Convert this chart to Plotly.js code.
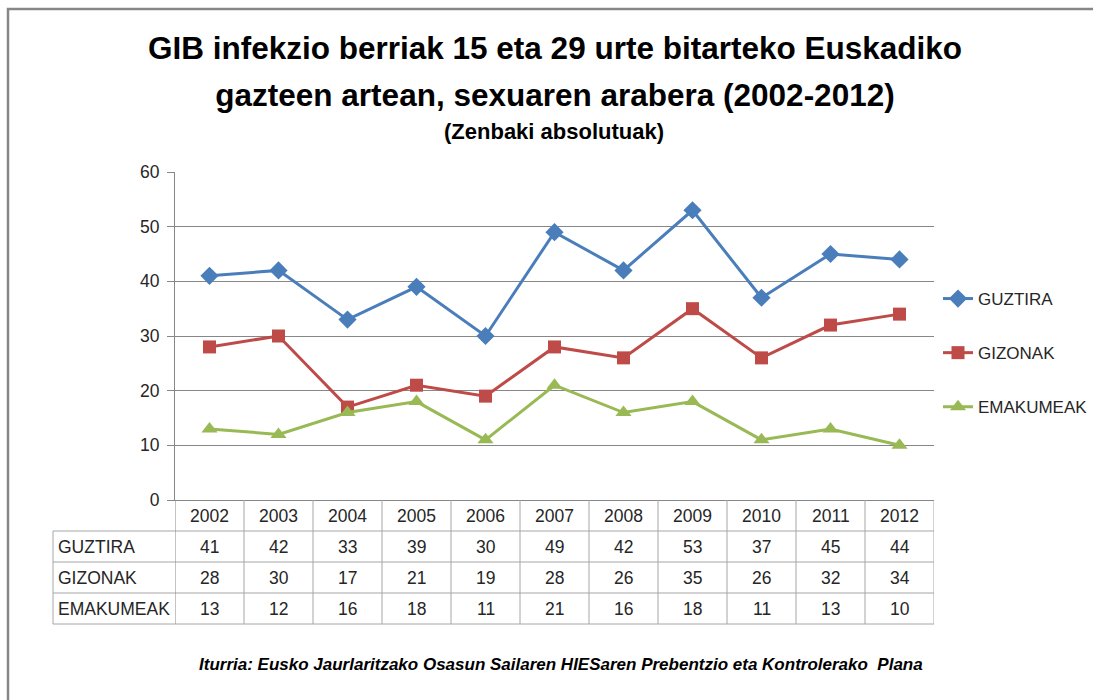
<!DOCTYPE html>
<html>
<head>
<meta charset="utf-8">
<script src="https://cdn.plot.ly/plotly-3.0.1.min.js"></script>
<style>html,body{margin:0;padding:0;background:#fff;}#chart{width:1093px;height:700px;}</style>
</head>
<body>
<div id="chart"></div>
<script>
// ---- data ----
const years = ["2002","2003","2004","2005","2006","2007","2008","2009","2010","2011","2012"];
const seriesNames = ["GUZTIRA","GIZONAK","EMAKUMEAK"];
const guztira   = [41, 42, 33, 39, 30, 49, 42, 53, 37, 45, 44];
const gizonak   = [28, 30, 17, 21, 19, 28, 26, 35, 26, 32, 34];
const emakumeak = [13, 12, 16, 18, 11, 21, 16, 18, 11, 13, 10];
const yTicks = [0, 10, 20, 30, 40, 50, 60];

const titleLine1 = "GIB infekzio berriak 15 eta 29 urte bitarteko Euskadiko";
const titleLine2 = "gazteen artean, sexuaren arabera (2002-2012)";
const subtitle = "(Zenbaki absolutuak)";
const sourceText = "Iturria: Eusko Jaurlaritzako Osasun Sailaren HIESaren Prebentzio eta Kontrolerako  Plana";

// ---- styling ----
const FONT = "'Liberation Sans', Arial, sans-serif";
const colors = ["#4A7EBB", "#BE4B48", "#98B954"];
const symbols = ["diamond", "square", "triangle-up"];
const msizes = [14, 13, 14];
const allSeries = [guztira, gizonak, emakumeak];

// plot area pixel geometry
const W = 1093, H = 700;
const L = 175, R = 934, T = 172, B = 500;
const pw = R - L, ph = B - T;
const py = p => (B - p) / ph;     // pixel y -> paper y
const px = p => (p - L) / pw;     // pixel x -> paper x

const traces = allSeries.map((vals, i) => ({
  type: "scatter",
  mode: "lines+markers",
  name: seriesNames[i],
  legendgroup: seriesNames[i],
  x: years,
  y: vals,
  line: {color: colors[i], width: 3},
  marker: {symbol: symbols[i], size: msizes[i], color: colors[i]},
  cliponaxis: false
}));

const rowEdges = [500, 531, 562, 593, 624];
const tableLine = "#A6A6A6";
const shapes = [];
const annotations = [];

// frame around chart
shapes.push({type: "rect", xref: "paper", yref: "paper",
  x0: px(8), x1: px(W + 10), y0: py(H + 10), y1: py(9),
  line: {color: "#878787", width: 2.5}, fillcolor: "rgba(0,0,0,0)"});

// table horizontal lines
for (let k = 1; k < rowEdges.length; k++) {
  shapes.push({type: "line", xref: "paper", yref: "paper",
    x0: px(53), x1: 1, y0: py(rowEdges[k]), y1: py(rowEdges[k]),
    line: {color: tableLine, width: 1}});
}
// table left border
shapes.push({type: "line", xref: "paper", yref: "paper",
  x0: px(53), x1: px(53), y0: py(rowEdges[1]), y1: py(rowEdges[4]),
  line: {color: tableLine, width: 1}});
// table vertical lines at category boundaries
for (let i = 0; i <= years.length; i++) {
  shapes.push({type: "line", xref: "x", yref: "paper",
    x0: i - 0.5, x1: i - 0.5, y0: 0, y1: py(rowEdges[4]),
    line: {color: i === 0 ? "#878787" : tableLine, width: 1}});
}

const cellFont = {family: FONT, size: 17.5, color: "#262626"};
// header row (years)
years.forEach((yr, i) => {
  annotations.push({xref: "x", yref: "paper", x: i, y: py((rowEdges[0] + rowEdges[1]) / 2),
    text: yr, showarrow: false, font: cellFont, xanchor: "center", yanchor: "middle"});
});
// data rows
allSeries.forEach((vals, r) => {
  const yc = py((rowEdges[r + 1] + rowEdges[r + 2]) / 2);
  annotations.push({xref: "paper", yref: "paper", x: px(56), y: yc, text: seriesNames[r],
    showarrow: false, font: cellFont, xanchor: "left", yanchor: "middle"});
  vals.forEach((v, i) => {
    annotations.push({xref: "x", yref: "paper", x: i, y: yc, text: String(v),
      showarrow: false, font: cellFont, xanchor: "center", yanchor: "middle"});
  });
});

// subtitle
annotations.push({xref: "paper", yref: "paper", x: px(554), y: py(132), text: "<b>" + subtitle + "</b>",
  showarrow: false, font: {family: FONT, size: 22, color: "#000"}, xanchor: "center", yanchor: "middle"});
// source
annotations.push({xref: "paper", yref: "paper", x: px(561), y: py(664), text: "<b><i>" + sourceText + "</i></b>",
  showarrow: false, font: {family: FONT, size: 17, color: "#000"}, xanchor: "center", yanchor: "middle"});

const layout = {
  width: W, height: H,
  margin: {l: L, r: W - R, t: T, b: H - B, pad: 0, autoexpand: false},
  paper_bgcolor: "#fff", plot_bgcolor: "#fff",
  title: {
    text: "<b><span style='font-size:31.5px'>" + titleLine1 + "</span></b><br><b><span style='font-size:31.5px'>" + titleLine2 + "</span></b>",
    font: {family: FONT, size: 36, color: "#000"},
    x: px(555), xanchor: "center", xref: "paper",
    y: 1 - 59 / H, yanchor: "middle", yref: "container"
  },
  xaxis: {
    type: "category", categoryorder: "array", categoryarray: years,
    range: [-0.5, years.length - 0.5],
    showticklabels: false, ticks: "", showgrid: false, zeroline: false,
    showline: true, linecolor: "#878787", linewidth: 1, fixedrange: true
  },
  yaxis: {
    range: [0, 60], tickvals: yTicks, ticktext: yTicks.map(String),
    ticks: "outside", ticklen: 7, tickcolor: "#878787", tickwidth: 1,
    showgrid: true, gridcolor: "#878787", gridwidth: 1, zeroline: false,
    showline: true, linecolor: "#878787", linewidth: 1,
    tickfont: {family: FONT, size: 17.5, color: "#262626"}, ticklabelstandoff: 4,
    fixedrange: true
  },
  showlegend: true,
  legend: {
    x: px(938), y: py(281), xanchor: "left", yanchor: "top",
    font: {family: FONT, size: 17, color: "#262626"},
    traceorder: "grouped", tracegroupgap: 29,
    bgcolor: "rgba(0,0,0,0)", borderwidth: 0, itemwidth: 30
  },
  shapes: shapes,
  annotations: annotations
};

Plotly.newPlot("chart", traces, layout, {displayModeBar: false, staticPlot: true});
</script>
</body>
</html>
